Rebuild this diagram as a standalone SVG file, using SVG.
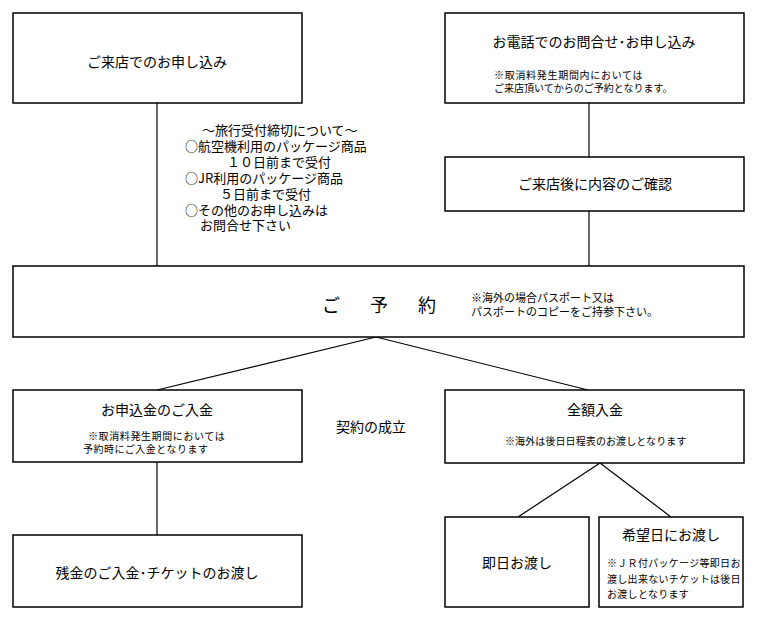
<svg xmlns="http://www.w3.org/2000/svg" width="757" height="621" viewBox="0 0 757 621">
<style>
.box{fill:#fff;stroke:#000;stroke-width:1.5}
.ln{fill:none;stroke:#000;stroke-width:1.2}
text{font-family:"Noto Sans CJK JP","Noto Sans",sans-serif;fill:#000}
.t{font-size:14px}
.c{text-anchor:middle}
.s{font-size:10px}
.n{font-size:13px}
</style>
<rect width="757" height="621" fill="#fff"/>
<g id="connectors">
<line class="ln" x1="157" y1="103" x2="157" y2="266"/>
<line class="ln" x1="589" y1="103" x2="589" y2="157"/>
<line class="ln" x1="589" y1="211" x2="589" y2="266"/>
<line class="ln" x1="376" y1="337" x2="157" y2="390"/>
<line class="ln" x1="376" y1="337" x2="588" y2="390"/>
<line class="ln" x1="157" y1="462" x2="157" y2="535"/>
<line class="ln" x1="600" y1="463" x2="518" y2="517"/>
<line class="ln" x1="600" y1="463" x2="671" y2="517"/>
</g>
<g id="n1">
<rect class="box" x="13" y="13" width="289" height="90"/>
<text class="t c" x="157" y="67">ご来店でのお申し込み</text>
</g>
<g id="n2">
<rect class="box" x="445" y="13" width="299" height="90"/>
<text class="t c" x="594" y="47">お電話でのお問合せ･お申し込み</text>
<text class="s" x="494" y="79" letter-spacing="0.7">※取消料発生期間内においては</text>
<text class="s" x="494" y="92">ご来店頂いてからのご予約となります。</text>
</g>
<g id="note">
<text class="n" x="202" y="135">～旅行受付締切について～</text>
<text class="n" x="185" y="151">○航空機利用のパッケージ商品</text>
<text class="n" x="227" y="167">１０日前まで受付</text>
<text class="n" x="185" y="183">○JR利用のパッケージ商品</text>
<text class="n" x="220" y="199">５日前まで受付</text>
<text class="n" x="185" y="215">○その他のお申し込みは</text>
<text class="n" x="200" y="230">お問合せ下さい</text>
</g>
<g id="n3">
<rect class="box" x="445" y="157" width="299" height="54"/>
<text class="t c" x="595" y="189">ご来店後に内容のご確認</text>
</g>
<g id="n4">
<rect class="box" x="13" y="266" width="731" height="71"/>
<text x="322" y="312" font-size="18" letter-spacing="6">ご　予　約</text>
<text x="471" y="302" font-size="11">※海外の場合パスポート又は</text>
<text x="471" y="316" font-size="11">パスポートのコピーをご持参下さい。</text>
</g>
<g id="n5">
<rect class="box" x="13" y="390" width="289" height="72"/>
<text class="t c" x="157" y="415">お申込金のご入金</text>
<text class="s" x="88" y="440" letter-spacing="0.6">※取消料発生期間においては</text>
<text class="s" x="83" y="453" letter-spacing="0.5">予約時にご入金となります</text>
</g>
<text id="contract" class="t" x="336" y="432">契約の成立</text>
<g id="n6">
<rect class="box" x="445" y="390" width="299" height="73"/>
<text class="t c" x="595" y="415">全額入金</text>
<text class="s" x="505" y="445" letter-spacing="0.1">※海外は後日日程表のお渡しとなります</text>
</g>
<g id="n7">
<rect class="box" x="13" y="535" width="289" height="72"/>
<text class="t c" x="157" y="578">残金のご入金･チケットのお渡し</text>
</g>
<g id="n8">
<rect class="box" x="445" y="517" width="144" height="90"/>
<text class="t c" x="517" y="568">即日お渡し</text>
</g>
<g id="n9">
<rect class="box" x="599" y="517" width="144" height="90"/>
<text class="t c" x="671" y="540">希望日にお渡し</text>
<text class="s" x="607" y="567" letter-spacing="0.3">※ＪＲ付パッケージ等即日お</text>
<text class="s" x="607" y="583" letter-spacing="0.3">渡し出来ないチケットは後日</text>
<text class="s" x="607" y="598" letter-spacing="0.3">お渡しとなります</text>
</g>
</svg>
